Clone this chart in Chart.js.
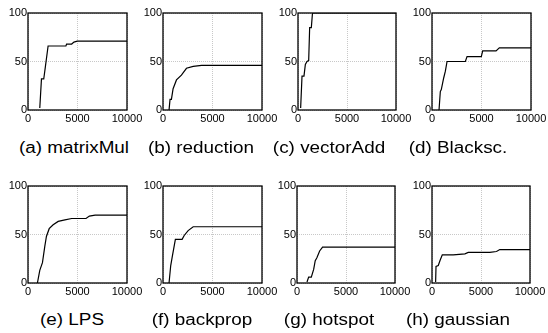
<!DOCTYPE html>
<html><head><meta charset="utf-8">
<script src="https://cdn.jsdelivr.net/npm/chart.js@4"></script>
<style>
html,body{margin:0;padding:0;background:#fff;width:548px;height:333px;overflow:hidden;}
body{position:relative;}
.box{position:absolute;}
.cap{position:absolute;font-family:"Liberation Sans",Arial,sans-serif;font-size:16px;line-height:16px;white-space:nowrap;color:#000;transform:translateX(-50%) scaleX(1.18);}
</style></head><body>
<script>
// ---- data ----
const captions = ['(a) matrixMul','(b) reduction','(c) vectorAdd','(d) Blacksc.','(e) LPS','(f) backprop','(g) hotspot','(h) gaussian'];
const xTickValues = [0, 5000, 10000];
const yTickValues = [0, 50, 100];

const matrixMulX = [1190,1360,1590,1760,2030,3830,3900,4410,4640,4980,10000];
const matrixMulY = [2,32,32,45,66,66,68,68,70,71,71];
const reductionX = [610,710,850,1020,1360,1860,2370,3050,3900,5930,10000];
const reductionY = [0,11,11,22,31,36,43,45,46,46,46];
const vectorAddX = [270,410,610,750,920,1090,1190,1360,1470,1540,10000];
const vectorAddY = [2,35,35,47,50,51,85,85,99,100,100];
const blackscX = [710,840,940,1180,1350,1520,3370,3540,4980,5120,6470,6800,10000];
const blackscY = [0,19,21,33,40,50,50,55,55,61,61,64,64];
const lpsX = [950,1190,1460,1700,1860,2140,2540,3050,3730,4410,5860,6200,6780,10000];
const lpsY = [0,13,21,38,48,56,60,63.5,65,66.5,66.5,69,70,70];
const backpropX = [610,780,950,1250,1930,2140,2540,3050,10000];
const backpropY = [0,18,28,45,45,49,54,58,58];
const hotspotX = [1020,1190,1460,1700,1860,2030,2310,2610,10000];
const hotspotY = [1,6,6,14,23,26,33,37,37];
const gaussianX = [370,410,640,810,1050,2170,3360,3700,5900,6580,6920,10000];
const gaussianY = [1,17,18,23,29,29,30,31.5,31.5,32.5,34.5,34.5];

const seriesX = [matrixMulX, reductionX, vectorAddX, blackscX, lpsX, backpropX, hotspotX, gaussianX];
const seriesY = [matrixMulY, reductionY, vectorAddY, blackscY, lpsY, backpropY, hotspotY, gaussianY];

// ---- layout (plot areas in page pixels) ----
const plots = [
  {l:28,t:13,r:127,b:110},{l:163,t:13,r:262,b:110},{l:298,t:13,r:396,b:110},{l:432,t:13,r:531,b:110},
  {l:28,t:186,r:127,b:283},{l:163,t:186,r:262,b:283},{l:297,t:186,r:395,b:283},{l:432,t:186,r:530,b:283}
];
const capCenters = [74,201,329,458,72,202,329,458];
const capTops = [140,140,140,140,312,312,312,312];

const YW = 30, XH = 22, PT = 10, PR = 20;
const font = {family:'"Liberation Sans", Arial, sans-serif', size:11};

const frame = {
  id:'frame',
  afterDatasetsDraw(chart){
    const {ctx, chartArea:a} = chart;
    ctx.save();
    ctx.strokeStyle = '#000';
    ctx.lineWidth = 1.3;
    ctx.strokeRect(a.left, a.top, a.right - a.left, a.bottom - a.top);
    ctx.restore();
  }
};

plots.forEach((p, i) => {
  const w = p.r - p.l, h = p.b - p.t;
  const box = document.createElement('div');
  box.className = 'box';
  box.style.left = (p.l - YW) + 'px';
  box.style.top = (p.t - PT) + 'px';
  const cv = document.createElement('canvas');
  cv.width = w + YW + PR; cv.height = h + PT + XH;
  cv.style.width = cv.width + 'px'; cv.style.height = cv.height + 'px';
  box.appendChild(cv);
  document.body.appendChild(box);

  const cap = document.createElement('div');
  cap.className = 'cap';
  cap.textContent = captions[i];
  cap.style.left = capCenters[i] + 'px';
  cap.style.top = capTops[i] + 'px';
  document.body.appendChild(cap);

  const pts = seriesX[i].map((x, k) => ({x, y: seriesY[i][k]}));
  new Chart(cv, {
    type:'line',
    data:{datasets:[{data:pts, borderColor:'#000', borderWidth:1.2, pointRadius:0, tension:0, fill:false}]},
    options:{
      responsive:false, animation:false, devicePixelRatio:1,
      layout:{padding:{top:PT, right:PR, left:0, bottom:0}},
      plugins:{legend:{display:false}, tooltip:{enabled:false}},
      scales:{
        x:{type:'linear', min:0, max:10000,
           afterBuildTicks:s=>{ s.ticks = xTickValues.map(v=>({value:v})); },
           afterFit:s=>{ s.height = XH; },
           grid:{color:'#c8c8c8', lineWidth:1, drawTicks:false},
           border:{display:false, dash:[1,1]},
           ticks:{color:'#000', font, padding:2, autoSkip:false, maxRotation:0, callback:v=>String(v)}},
        y:{type:'linear', min:0, max:100,
           afterBuildTicks:s=>{ s.ticks = yTickValues.map(v=>({value:v})); },
           afterFit:s=>{ s.width = YW; },
           grid:{color:'#c8c8c8', lineWidth:1, drawTicks:false},
           border:{display:false, dash:[1,1]},
           ticks:{color:'#000', font, padding:1, callback:v=>String(v)}}
      }
    },
    plugins:[frame]
  });
});
</script>
</body></html>
